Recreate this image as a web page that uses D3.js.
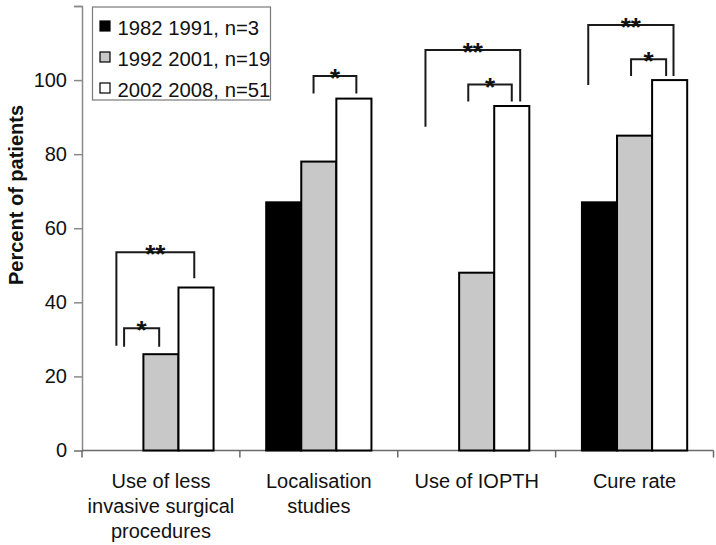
<!DOCTYPE html>
<html>
<head>
<meta charset="utf-8">
<script src="https://cdn.jsdelivr.net/npm/d3@7"></script>
<style>
	body { margin: 0; background: #fff; }
	svg { font-family: "Liberation Sans", Arial, sans-serif; }
</style>
</head>
<body>
<div id="chart"></div>
<script>

let categories = ["Use of less\ninvasive surgical\nprocedures", "Localisation\nstudies", "Use of IOPTH", "Cure rate"];
let seriesNames = ["1982 1991, n=3", "1992 2001, n=19", "2002 2008, n=51"];
let values1982 = [null, 67, null, 67];
let values1992 = [26, 78, 48, 85];
let values2002 = [44, 95, 93, 100];
let yTicks = [0, 20, 40, 60, 80, 100, 120];
let yTickLabels = ["0", "20", "40", "60", "80", "100", ""];

// significance brackets: from/to in bar units inside the group, heights in percent
let brackets = [
	{cat: 0, from: 0.45, to: 1.45, top: 33.0, left: 28.0, right: 28.0, label: "*"},
	{cat: 0, from: 0.23, to: 2.45, top: 53.5, left: 28.3, right: 46.5, label: "**"},
	{cat: 1, from: 1.35, to: 2.57, top: 101.1, left: 96.4, right: 96.4, label: "*"},
	{cat: 2, from: 0.04, to: 2.74, top: 108.1, left: 87.4, right: 94.2, label: "**"},
	{cat: 2, from: 1.26, to: 2.50, top: 98.8, left: 94.2, right: 94.2, label: "*"},
	{cat: 3, from: 0.18, to: 2.61, top: 114.9, left: 98.7, right: 101.1, label: "**"},
	{cat: 3, from: 1.40, to: 2.40, top: 105.6, left: 101.1, right: 101.1, label: "*"}
];

let width = 716;
let height = 545;
let fills = ["#000000", "#c8c8c8", "#ffffff"];
let series = [values1982, values1992, values2002];

let svg = d3.select("#chart").append("svg")
			.attr("width", width)
			.attr("height", height);

let x0 = d3.scaleBand().domain(categories).range([82, 713.5]).padding(0);
let x1 = d3.scaleBand().domain(seriesNames).range([0, x0.bandwidth()]).paddingInner(0).paddingOuter(0.75);
let y = d3.scaleLinear().domain([0, 120]).range([450.5, 6]);

// y axis
let yAxis = svg.append("g")
			.attr("transform", "translate(82,0)")
			.call(d3.axisLeft(y).tickValues(yTicks).tickSize(8).tickPadding(7)
				.tickFormat((d, i) => yTickLabels[i]));
yAxis.select(".domain").attr("stroke", "#8a8a8a").attr("stroke-width", 1.5);
yAxis.selectAll(".tick line").attr("stroke", "#8a8a8a").attr("stroke-width", 1.5);
yAxis.selectAll(".tick text").attr("font-size", 20).attr("fill", "#111");

// x axis, ticks on category boundaries
let xAxis = svg.append("g").attr("transform", "translate(0," + y(0) + ")");
xAxis.append("line")
	.attr("x1", x0.range()[0]).attr("x2", x0.range()[1])
	.attr("stroke", "#6a6a6a").attr("stroke-width", 1.5);
xAxis.selectAll(".xt")
	.data(categories.map(c => x0(c)).concat([x0.range()[1]]))
	.enter().append("line")
	.attr("x1", d => d).attr("x2", d => d)
	.attr("y1", 0).attr("y2", 7)
	.attr("stroke", "#6a6a6a").attr("stroke-width", 1.5);

let xLabels = svg.append("g");
categories.forEach(function(c) {
	let t = xLabels.append("text")
			.attr("text-anchor", "middle")
			.attr("font-size", 20)
			.attr("fill", "#111")
			.attr("x", x0(c) + x0.bandwidth() / 2)
			.attr("y", 488);
	c.split("\n").forEach(function(line, i) {
		t.append("tspan")
			.attr("x", x0(c) + x0.bandwidth() / 2)
			.attr("dy", i == 0 ? 0 : 25)
			.text(line);
	});
});

svg.append("text")
	.attr("transform", "translate(23," + 195 + ") rotate(-90)")
	.attr("text-anchor", "middle")
	.attr("font-size", 20)
	.attr("font-weight", "bold")
	.attr("fill", "#111")
	.text("Percent of patients");

// bars
let groups = svg.append("g").selectAll("g")
			.data(categories)
			.enter().append("g")
			.attr("transform", d => "translate(" + x0(d) + ",0)");

groups.selectAll("rect")
	.data((c, ci) => seriesNames.map((s, si) => ({s: s, si: si, v: series[si][ci]})).filter(d => d.v != null))
	.enter().append("rect")
	.attr("x", d => x1(d.s))
	.attr("y", d => y(d.v))
	.attr("width", x1.bandwidth())
	.attr("height", d => y(0) - y(d.v))
	.attr("fill", d => fills[d.si])
	.attr("stroke", "#000")
	.attr("stroke-width", 2);

// brackets
let step = x1.step();
function bx(cat, u) { return x0(categories[cat]) + x1(seriesNames[0]) + u * step; }

let bg = svg.append("g");
brackets.forEach(function(b) {
	let xa = bx(b.cat, b.from), xb = bx(b.cat, b.to);
	bg.append("path")
		.attr("d", "M" + xa + "," + y(b.left) + "V" + y(b.top) + "H" + xb + "V" + y(b.right))
		.attr("fill", "none")
		.attr("stroke", "#1a1a1a")
		.attr("stroke-width", 2);
	bg.append("text")
		.attr("x", (xa + xb) / 2)
		.attr("y", y(b.top) + 11)
		.attr("text-anchor", "middle")
		.attr("font-size", 26)
		.attr("font-weight", "bold")
		.attr("fill", "#111")
		.text(b.label);
});

// legend
let legend = svg.append("g");
legend.append("rect")
	.attr("x", 92.5).attr("y", 7)
	.attr("width", 178).attr("height", 93)
	.attr("fill", "#fff")
	.attr("stroke", "#7a7a7a")
	.attr("stroke-width", 1.2);

let items = legend.selectAll(".item")
			.data(seriesNames)
			.enter().append("g")
			.attr("transform", (d, i) => "translate(0," + (35 + i * 31) + ")");
items.append("rect")
	.attr("x", 100).attr("y", -14)
	.attr("width", 10).attr("height", 10)
	.attr("fill", (d, i) => fills[i])
	.attr("stroke", "#000")
	.attr("stroke-width", 1.2);
items.append("text")
	.attr("x", 117.5)
	.attr("font-size", 20.3)
	.attr("fill", "#111")
	.text(d => d);

</script>
</body>
</html>
